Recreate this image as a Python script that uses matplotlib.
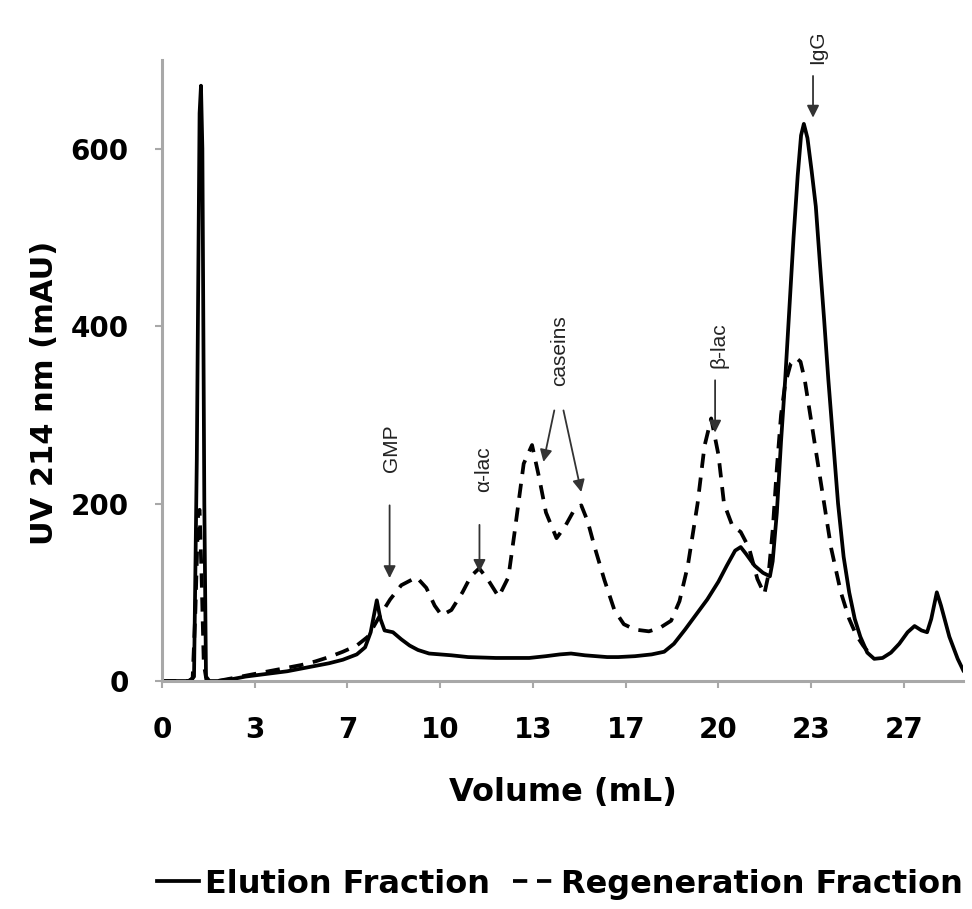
import matplotlib
matplotlib.use("Agg")
import matplotlib.pyplot as plt

plt.rcParams['font.family'] = ['DejaVu Sans']

# Elution fraction (solid line): volume (mL), UV (mAU)
vol_elution = [0, 1.0, 1.15, 1.25, 1.35, 1.4, 1.45, 1.52, 1.58, 1.7, 2.0, 2.5, 3.0, 3.5,
               4.0, 4.5, 5.0, 5.5, 6.0, 6.5, 7.0, 7.3, 7.5, 7.72, 7.85, 8.0, 8.3, 8.6,
               8.9, 9.2, 9.6, 10.4, 11.0, 12.0, 12.5, 13.2, 13.8, 14.3, 14.7, 15.2, 16.0,
               16.4, 17.0, 17.6, 18.05, 18.4, 18.8, 19.2, 19.6, 20.0, 20.3, 20.6, 20.8,
               21.0, 21.3, 21.6, 21.85, 21.95, 22.1, 22.25, 22.4, 22.55, 22.7, 22.85,
               22.97, 23.07, 23.2, 23.35, 23.5, 23.65, 23.8, 23.95, 24.1, 24.3, 24.5,
               24.7, 24.9, 25.1, 25.35, 25.6, 25.9, 26.2, 26.5, 26.8, 27.05, 27.3, 27.5,
               27.65, 27.85, 28.0, 28.3, 28.6, 28.8]
uv_elution = [0, 0, 5, 250, 640, 671, 600, 200, 5, 0, 0, 2, 5, 7,
              9, 11, 14, 17, 20, 24, 30, 38, 55, 91, 70, 57, 55, 47,
              40, 35, 31, 29, 27, 26, 26, 26, 28, 30, 31, 29, 27,
              27, 28, 30, 33, 42, 58, 75, 92, 112, 130, 147, 151,
              143, 130, 122, 118, 135, 190, 270, 340, 420, 500, 570,
              615, 628, 612, 575, 535, 470, 407, 340, 280, 200, 140,
              100, 70, 50, 32, 25, 26, 32, 42, 55, 62, 57, 55,
              70, 100, 85, 50, 25, 12]

# Regeneration fraction (dashed line)
vol_regen = [0, 0.95, 1.1, 1.2, 1.3, 1.35, 1.42, 1.5, 1.6, 2.0, 2.5, 3.0, 3.5, 4.0, 4.5,
             5.0, 5.5, 6.0, 6.5, 7.0, 7.4, 7.8, 8.2, 8.6, 9.15, 9.5, 9.8, 10.05, 10.4,
             10.8, 11.1, 11.4, 11.7, 12.1, 12.45, 12.67, 13.0, 13.3, 13.55, 13.8, 14.18,
             14.5, 14.8, 15.07, 15.3, 15.55, 15.9, 16.26, 16.6, 17.0, 17.5, 17.9, 18.3,
             18.6, 18.9, 19.25, 19.5, 19.74, 20.0, 20.2, 20.5, 20.8, 21.1, 21.4, 21.65,
             21.8, 21.95, 22.1, 22.25, 22.4, 22.6, 22.8, 22.95, 23.1, 23.3, 23.55, 23.8,
             24.05, 24.4, 24.7, 24.95, 25.2, 25.45]
uv_regen = [0, 0, 3, 80, 190, 193, 120, 20, 0, 0, 3, 6, 9, 12, 15,
            18, 22, 27, 33, 40, 50, 72, 92, 108, 117, 105, 85, 74, 80,
            100, 118, 127, 115, 95, 117, 167, 245, 266, 230, 190, 161,
            175, 192, 198, 180, 151, 114, 80, 64, 58, 56, 60, 68,
            90, 130, 200, 265, 296, 255, 200, 175, 168, 150, 115, 98,
            120, 170, 240, 300, 335, 358, 364, 360, 340, 300, 250, 200,
            150, 100, 70, 52, 40, 30]

x_ticks = [0, 10 / 3, 20 / 3, 10, 40 / 3, 50 / 3, 20, 70 / 3, 80 / 3]
x_tick_labels = ['0', '3', '7', '10', '13', '17', '20', '23', '27']
y_ticks = [0, 200, 400, 600]

fig = plt.figure(figsize=(9.72, 9.09), dpi=100)
ax = fig.add_axes([0.1667, 0.2508, 0.8243, 0.6832])

dash = (0, (3.8, 2.6))
ax.plot(vol_elution, uv_elution, color='black', linewidth=2.7, solid_joinstyle='round')
ax.plot(vol_regen, uv_regen, color='black', linewidth=2.7, linestyle=dash)

ax.set_xlim(0, 28.8)
ax.set_ylim(0, 700)
ax.set_xticks(x_ticks)
ax.set_xticklabels(x_tick_labels)
ax.set_yticks(y_ticks)

for side in ['top', 'right']:
    ax.spines[side].set_visible(False)
for side in ['left', 'bottom']:
    ax.spines[side].set_color('#a8a8a8')
    ax.spines[side].set_linewidth(2.2)
ax.tick_params(axis='both', colors='#a8a8a8', length=5, width=1.5)
ax.tick_params(axis='x', pad=20)
ax.tick_params(axis='y', pad=19)
for lab in ax.get_xticklabels() + ax.get_yticklabels():
    lab.set_color('black')
    lab.set_fontsize(20)
    lab.set_fontweight('bold')

ax.set_xlabel('Volume (mL)', fontsize=23, fontweight='bold', labelpad=24)
ax.set_ylabel('UV 214 nm (mAU)', fontsize=22, fontweight='bold')
ax.yaxis.set_label_coords(-0.128, 0.464)

# peak annotations: (label, text x, text y, [(arrow start), (arrow end)])
annotations = [
    ('GMP', 8.26, 262, [((8.18, 198), (8.18, 116))]),
    ('\u03b1-lac', 11.55, 239, [((11.41, 176), (11.41, 123))]),
    ('caseins', 14.3, 372, [((14.1, 305), (13.71, 247)), ((14.43, 305), (15.07, 213))]),
    ('\u03b2-lac', 20.03, 378, [((19.88, 339), (19.88, 280))]),
    ('IgG', 23.55, 714, [((23.4, 682), (23.4, 635))]),
]
for label, tx, ty, arrows in annotations:
    ax.text(tx, ty, label, rotation=90, ha='center', va='center', fontsize=15,
            family='Liberation Sans', color='#222222', clip_on=False)
    for start, end in arrows:
        ax.annotate('', xy=end, xytext=start, annotation_clip=False,
                    arrowprops=dict(arrowstyle='-|>', color='#333333', lw=1.3,
                                    mutation_scale=18, shrinkA=0, shrinkB=0))

handles = [plt.Line2D([], [], color='black', linewidth=2.7),
           plt.Line2D([], [], color='black', linewidth=2.7, linestyle=dash)]
fig.legend(handles, ['Elution Fraction', 'Regeneration Fraction'], loc='center',
           bbox_to_anchor=(0.576, 0.0275), ncol=2, frameon=False, handlelength=1.3,
           handletextpad=0.2, columnspacing=0.7,
           prop={'size': 23, 'weight': 'bold'})

fig.savefig('out.png', dpi=100)
